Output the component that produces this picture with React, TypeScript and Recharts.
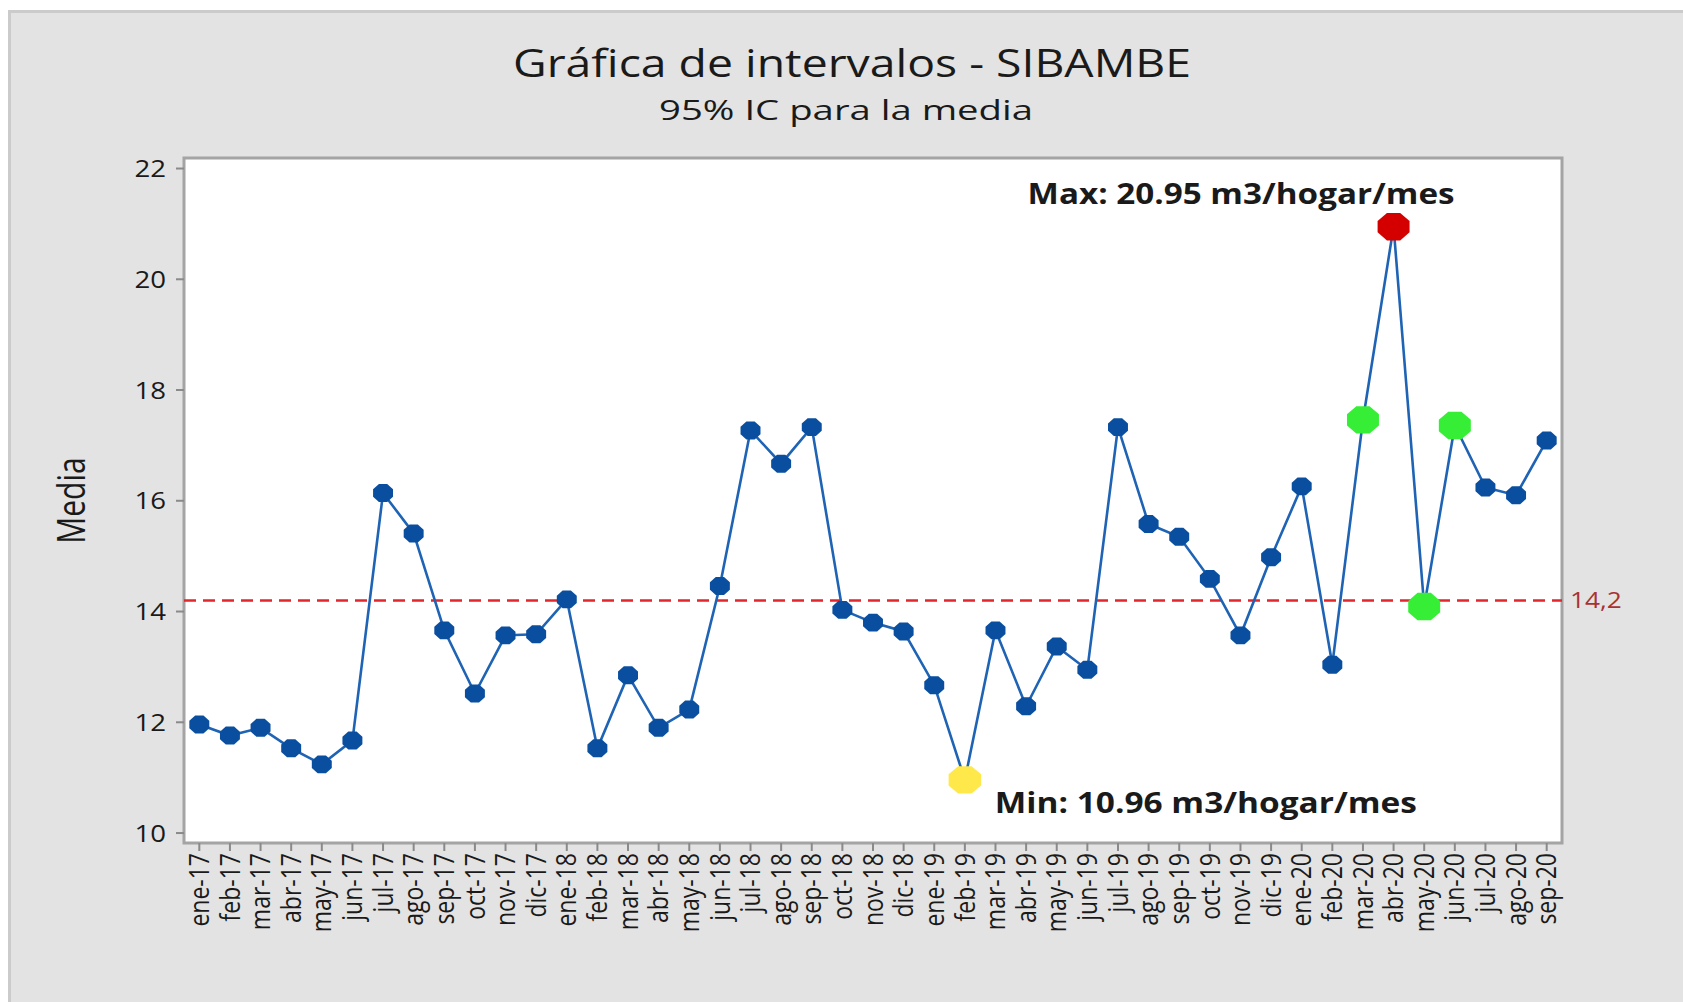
import { LineChart, Line, XAxis, YAxis, ReferenceLine, ReferenceArea } from 'recharts'

// meses (ene-17 .. sep-20)
const months = [
  'ene-17', 'feb-17', 'mar-17', 'abr-17', 'may-17', 'jun-17', 'jul-17', 'ago-17', 'sep-17', 'oct-17', 'nov-17', 'dic-17',
  'ene-18', 'feb-18', 'mar-18', 'abr-18', 'may-18', 'jun-18', 'jul-18', 'ago-18', 'sep-18', 'oct-18', 'nov-18', 'dic-18',
  'ene-19', 'feb-19', 'mar-19', 'abr-19', 'may-19', 'jun-19', 'jul-19', 'ago-19', 'sep-19', 'oct-19', 'nov-19', 'dic-19',
  'ene-20', 'feb-20', 'mar-20', 'abr-20', 'may-20', 'jun-20', 'jul-20', 'ago-20', 'sep-20',
]

// media mensual (m3/hogar/mes)
const media = [
  11.96, 11.76, 11.90, 11.53, 11.24, 11.67, 16.14, 15.41, 13.66, 12.52, 13.57, 13.59,
  14.22, 11.53, 12.85, 11.90, 12.23, 14.46, 17.27, 16.67, 17.33, 14.03, 13.80, 13.64,
  12.67, 10.96, 13.66, 12.29, 13.37, 12.95, 17.33, 15.58, 15.35, 14.59, 13.57, 14.98,
  16.26, 13.04, 17.46, 20.95, 14.09, 17.36, 16.24, 16.10, 17.09,
]

const flaggedMonths = ['mar-20', 'may-20', 'jun-20']
const yTicks = [10, 12, 14, 16, 18, 20, 22]
const yDomain: [number, number] = [9.82, 22.19]
const meanValue = 14.2
const meanLabel = '14,2'

const data = months.map((mes, i) => ({ mes, media: media[i] }))

const maxIdx = media.indexOf(Math.max(...media))
const minIdx = media.indexOf(Math.min(...media))

const FONT = '"Open Sans", "Noto Sans", sans-serif'
const TEXT = '#1a1a1a'

function octagon(cx: number, cy: number, rx: number, ry: number) {
  const pts: string[] = []
  for (let k = 0; k < 8; k++) {
    const a = Math.PI / 8 + (k * Math.PI) / 4
    pts.push(`${(cx + rx * Math.cos(a)).toFixed(2)},${(cy + ry * Math.sin(a)).toFixed(2)}`)
  }
  return pts.join(' ')
}

const Dot = (props: any) => {
  const { cx, cy, index, payload } = props
  if (cx == null || cy == null) return <g key={`d-${index}`} />

  let fill = '#0a4f9f'
  let rx = 10.8
  let ry = 9.7
  if (index === maxIdx) { fill = '#d40000'; rx = 17.3; ry = 14.9 }
  else if (index === minIdx) { fill = '#ffe84a'; rx = 17.6; ry = 14.7 }
  else if (flaggedMonths.includes(payload.mes)) { fill = '#35ee35'; rx = 17.3; ry = 14.8 }

  return (
    <g key={`d-${index}`}>
      <polygon points={octagon(cx, cy, rx, ry)} fill={fill} />
      {index === maxIdx && (
        <text x={cx - 366} y={cy - 23} fontFamily={FONT} fontWeight={700} fontSize={29} fill={TEXT}
          textLength={427} lengthAdjust="spacingAndGlyphs">
          {`Max: ${media[maxIdx].toFixed(2)} m3/hogar/mes`}
        </text>
      )}
      {index === minIdx && (
        <text x={cx + 30} y={cy + 33} fontFamily={FONT} fontWeight={700} fontSize={29} fill={TEXT}
          textLength={422} lengthAdjust="spacingAndGlyphs">
          {`Min: ${media[minIdx].toFixed(2)} m3/hogar/mes`}
        </text>
      )}
    </g>
  )
}

const XTick = ({ x, y, payload }: any) => (
  <g transform={`translate(${x},${y}) scale(1.2,1) rotate(-90)`}>
    <text textAnchor="end" dy="0.35em" fontFamily={FONT} fontSize={23} fill={TEXT}>
      {payload.value}
    </text>
  </g>
)

const YTick = ({ x, y, payload }: any) => (
  <g transform={`translate(${x},${y}) scale(1.15,1)`}>
    <text textAnchor="end" dy="0.36em" fontFamily={FONT} fontSize={24} fill={TEXT}>
      {payload.value}
    </text>
  </g>
)

const MediaLabel = ({ viewBox }: any) => {
  const cx = viewBox.x + 7
  const cy = viewBox.y + viewBox.height / 2
  return (
    <g transform={`translate(${cx},${cy}) scale(1.3,1) rotate(-90)`}>
      <text textAnchor="middle" dy="0.35em" fontFamily={FONT} fontSize={30} fill={TEXT}>Media</text>
    </g>
  )
}

const MeanLabel = ({ viewBox }: any) => (
  <g transform={`translate(${viewBox.x + viewBox.width + 8},${viewBox.y}) scale(1.25,1)`}>
    <text dy="0.36em" fontFamily={FONT} fontSize={21} fill="#a83232">{meanLabel}</text>
  </g>
)

export default function App() {
  return (
    <div style={{ position: 'absolute', left: 0, top: 0, width: 1683, height: 1002, background: '#fff', overflow: 'hidden' }}>
      <div style={{
        position: 'absolute', left: 8, top: 10, width: 1720, height: 1040,
        background: '#e3e3e3', border: '3px solid #cbcbcb',
      }} />
      <svg width={1683} height={1002} style={{ position: 'absolute', left: 0, top: 0 }}>
        <text x={852} y={77} textAnchor="middle" fontFamily={FONT} fontSize={38} fill={TEXT}
          textLength={678} lengthAdjust="spacingAndGlyphs">
          Gráfica de intervalos - SIBAMBE
        </text>
        <text x={846} y={120} textAnchor="middle" fontFamily={FONT} fontSize={27} fill={TEXT}
          textLength={374} lengthAdjust="spacingAndGlyphs">
          95% IC para la media
        </text>
      </svg>
      <div style={{ position: 'absolute', left: 0, top: 0 }}>
        <LineChart
          width={1683}
          height={1002}
          data={data}
          margin={{ top: 158, right: 121, bottom: 59, left: 64 }}
        >
          <ReferenceArea
            y1={yDomain[0]}
            y2={yDomain[1]}
            fill="#ffffff"
            fillOpacity={1}
            stroke="#a4a4a4"
            strokeWidth={3}
            ifOverflow="extendDomain"
          />
          <XAxis
            dataKey="mes"
            scale="band"
            interval={0}
            height={100}
            axisLine={false}
            tickSize={8}
            tickMargin={2}
            tickLine={{ stroke: '#8a8a8a', strokeWidth: 2 }}
            tick={<XTick />}
          />
          <YAxis
            type="number"
            domain={yDomain}
            allowDataOverflow
            ticks={yTicks}
            width={120}
            axisLine={false}
            tickSize={8}
            tickMargin={10}
            tickLine={{ stroke: '#8a8a8a', strokeWidth: 2 }}
            tick={<YTick />}
            label={<MediaLabel />}
          />
          <ReferenceLine
            y={meanValue}
            stroke="#e3262b"
            strokeWidth={2.5}
            strokeDasharray="12 7"
            label={<MeanLabel />}
          />
          <Line
            type="linear"
            dataKey="media"
            stroke="#1f63b5"
            strokeWidth={2.6}
            dot={Dot}
            activeDot={false}
            isAnimationActive={false}
          />
        </LineChart>
      </div>
    </div>
  )
}
